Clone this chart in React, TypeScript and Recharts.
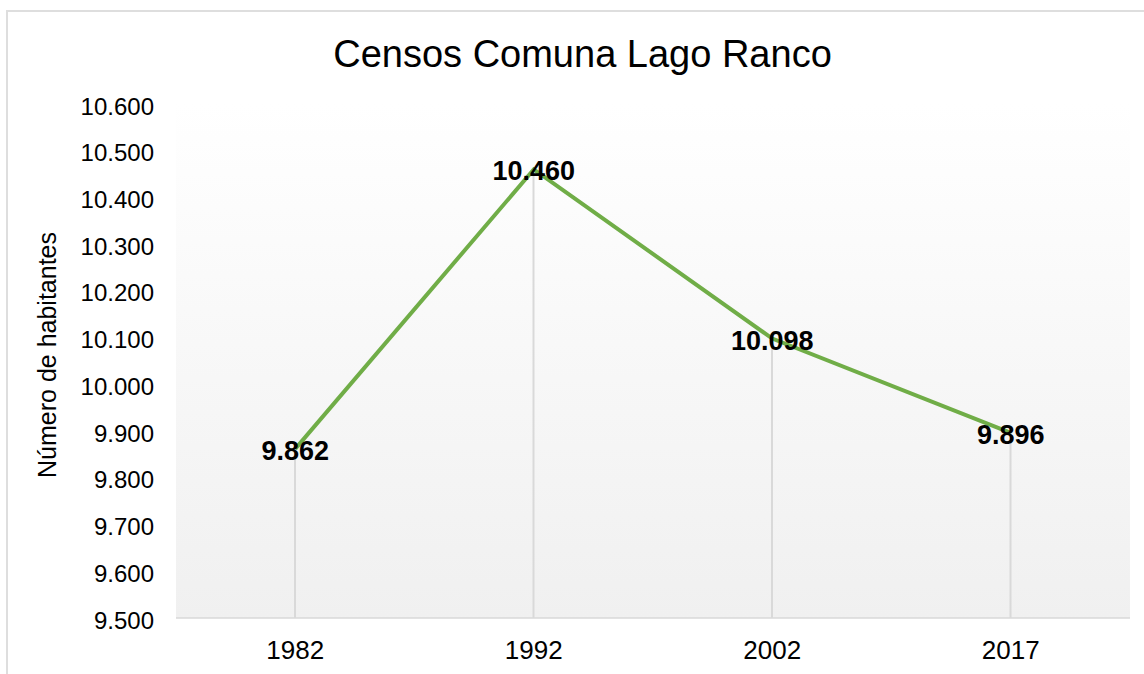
import React from 'react';
import { ComposedChart, Line, Bar, XAxis, YAxis, CartesianGrid, LabelList } from 'recharts';

const categories: string[] = ['1982', '1992', '2002', '2017'];
const habitantes: number[] = [9862, 10460, 10098, 9896];
const yTicks: number[] = [9500, 9600, 9700, 9800, 9900, 10000, 10100, 10200, 10300, 10400, 10500, 10600];
const titleText = 'Censos Comuna Lago Ranco';
const yAxisTitle = 'Número de habitantes';

const data = categories.map((c, i) => ({ year: c, value: habitantes[i] }));

const FONT = '"Liberation Sans", Arial, Helvetica, sans-serif';

const fmt = (v: number) => String(v).replace(/\B(?=(\d{3})+(?!\d))/g, '.');

const ValueLabel = (props: any) => {
  const { x, y, value } = props;
  if (x == null || y == null) return null;
  return (
    <text
      x={x}
      y={y + 2}
      textAnchor="middle"
      dominantBaseline="central"
      fontFamily={FONT}
      fontWeight="bold"
      fontSize={27}
      fill="#000"
    >
      {fmt(value)}
    </text>
  );
};

const YTitle = (props: any) => {
  const vb = props.viewBox || {};
  const cx = 56;
  const cy = (vb.y ?? 104) + (vb.height ?? 514) / 2 - 6;
  return (
    <text
      x={cx}
      y={cy}
      textAnchor="middle"
      transform={`rotate(-90, ${cx}, ${cy})`}
      fontFamily={FONT}
      fontSize={25}
      fill="#000"
    >
      {yAxisTitle}
    </text>
  );
};

export default function App() {
  return (
    <div style={{ position: 'absolute', left: 0, top: 0, width: 1144, height: 674, overflow: 'hidden', background: '#fff' }}>
      <div
        style={{
          position: 'absolute',
          left: 6,
          top: 10,
          width: 1200,
          height: 700,
          border: '2px solid #dedede',
          boxSizing: 'border-box',
        }}
      />
      <div
        style={{
          position: 'absolute',
          left: 0,
          top: 35,
          width: 1165,
          textAlign: 'center',
          fontFamily: FONT,
          fontSize: 38,
          lineHeight: '38px',
          color: '#000',
          whiteSpace: 'nowrap',
        }}
      >
        {titleText}
      </div>
      <div style={{ position: 'absolute', left: 0, top: 0 }}>
        <ComposedChart
          width={1144}
          height={674}
          data={data}
          margin={{ top: 104, right: 14, bottom: 26, left: 0 }}
        >
          <defs>
            <linearGradient id="plotBg" x1="0" y1="0" x2="0" y2="1">
              <stop offset="0%" stopColor="#ffffff" />
              <stop offset="100%" stopColor="#f0f0f0" />
            </linearGradient>
          </defs>
          <CartesianGrid horizontal={false} vertical={false} fill="url(#plotBg)" stroke="none" />
          <XAxis
            dataKey="year"
            interval={0}
            tickLine={false}
            axisLine={{ stroke: '#d9d9d9', strokeWidth: 1.5 }}
            tick={{ fontSize: 26, fill: '#000', fontFamily: FONT }}
            tickMargin={17}
          />
          <YAxis
            domain={[9500, 10600]}
            ticks={yTicks}
            interval={0}
            width={176}
            axisLine={false}
            tickLine={false}
            tickFormatter={fmt}
            tick={{ fontSize: 24, fill: '#000', fontFamily: FONT, dy: 2 }}
            tickMargin={16}
            label={<YTitle />}
          />
          <Bar dataKey="value" barSize={2} fill="#d9d9d9" isAnimationActive={false} />
          <Line
            type="linear"
            dataKey="value"
            stroke="#70ad47"
            strokeWidth={4}
            dot={false}
            activeDot={false}
            isAnimationActive={false}
          >
            <LabelList dataKey="value" content={<ValueLabel />} />
          </Line>
        </ComposedChart>
      </div>
    </div>
  );
}
